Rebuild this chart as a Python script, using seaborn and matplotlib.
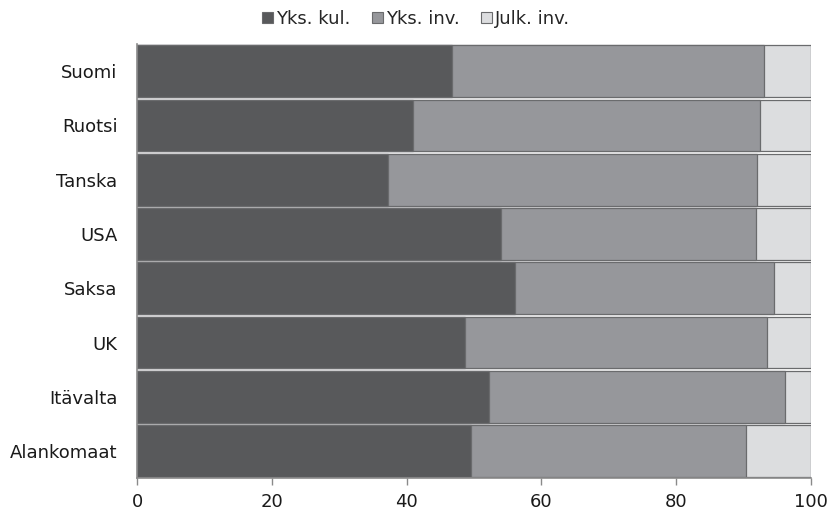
import matplotlib
matplotlib.use("Agg")
import matplotlib.pyplot as plt
import seaborn as sns
import pandas as pd
from matplotlib.patches import Patch

countries = ["Suomi", "Ruotsi", "Tanska", "USA", "Saksa", "UK", "Itävalta", "Alankomaat"]
yks_kul = [46.7, 40.9, 37.2, 54.0, 56.1, 48.7, 52.2, 49.5]
yks_inv = [46.3, 51.6, 54.8, 37.9, 38.4, 44.8, 44.0, 40.8]
julk_inv = [7.0, 7.5, 8.0, 8.1, 5.5, 6.5, 3.8, 9.7]
series_names = ["Yks. kul.", "Yks. inv.", "Julk. inv."]
colors = ["#58595b", "#96979b", "#dcdddf"]
edge = "#6a6b6d"
x_ticks = [0, 20, 40, 60, 80, 100]

df = pd.DataFrame({"maa": countries, "kul": yks_kul, "inv": yks_inv, "julk": julk_inv})
df["c1"] = df["kul"]
df["c2"] = df["kul"] + df["inv"]
df["c3"] = df["c2"] + df["julk"]

sns.set_theme(style="white")
plt.rcParams["font.family"] = ["DejaVu Sans"]

fig = plt.figure(figsize=(8.32, 5.12), dpi=100)
ax = fig.add_axes([0.1647, 0.066, 0.8101, 0.848])

# stacked bars: draw cumulative totals from the widest layer down
for col, c in zip(["c3", "c2", "c1"], colors[::-1]):
    sns.barplot(data=df, x=col, y="maa", order=countries, orient="h", color=c,
                width=0.955, edgecolor=edge, linewidth=0.9, saturation=1, ax=ax)

ax.set_xlim(0, 100)
ax.set_ylim(7.5, -0.5)
ax.set_xticks(x_ticks)
ax.set_xticklabels([str(t) for t in x_ticks], fontsize=13, color="#1a1a1a")
ax.tick_params(axis="y", length=0, labelsize=13, labelcolor="#1a1a1a", pad=14)
ax.tick_params(axis="x", length=5, width=1, color="#8a8a8a", pad=6, bottom=True)
ax.set_xlabel("")
ax.set_ylabel("")
for s in ["top", "right"]:
    ax.spines[s].set_visible(False)
for s in ["left", "bottom"]:
    ax.spines[s].set_color("#8a8a8a")
    ax.spines[s].set_linewidth(1.2)

handles = [Patch(facecolor=c, edgecolor=edge, linewidth=0.8) for c in colors]
fig.legend(handles, series_names, loc="upper center", bbox_to_anchor=(0.5, 1.005),
           ncol=3, frameon=False, fontsize=13, handlelength=0.6, handleheight=0.6,
           handletextpad=0.15, columnspacing=1.2, borderaxespad=0.3)

fig.savefig("out.png", dpi=100)
